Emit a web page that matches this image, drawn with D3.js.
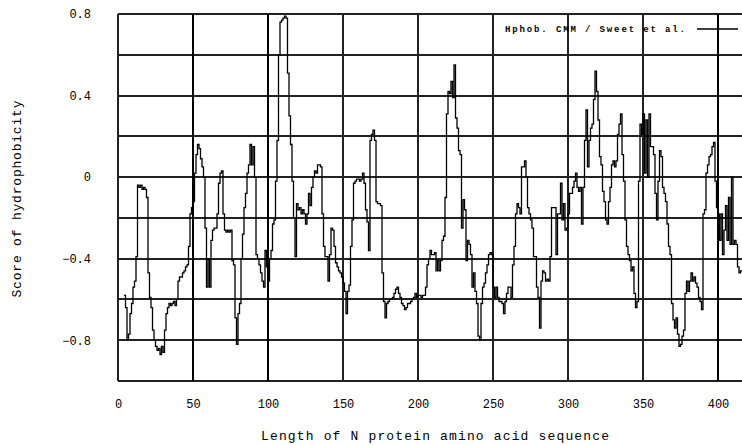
<!DOCTYPE html>
<meta charset='utf-8'>
<title>N protein hydrophobicity</title>
<style>
  body { margin: 0; background: #fff; }
  svg { display: block; }
  text { font-family: 'Liberation Mono', 'DejaVu Sans Mono', monospace; fill: #000; }
  .tick text { font-size: 12px; }
  .grid line { stroke: #222; stroke-width: 1.5px; shape-rendering: crispEdges; }
  .grid line.thick { stroke: #000; stroke-width: 2.5px; }
  .profile { fill: none; stroke: #000; stroke-width: 1.3px; }
</style>
<body>
<script src='https://cdn.jsdelivr.net/npm/d3@7'></script>
<script>

  // x: residue position, y: hydrophobicity score (window average)
  var xTicks = [0, 50, 100, 150, 200, 250, 300, 350, 400]
  var xThick = [50, 100, 400]
  var yGrid = [-1, -0.8, -0.6, -0.4, -0.2, 0, 0.2, 0.4, 0.6, 0.8]
  var yTicks = [0.8, 0.4, 0, -0.4, -0.8]
  var yTickLabels = ['0.8', '0.4', '0', '\u22120.4', '\u22120.8']
  var legendLabel = 'Hphob. CMM / Sweet et al.'

  var startResidue = 4
  var score = [
    -0.58,-0.64,-0.80,-0.77,-0.67,-0.62,-0.54,-0.51,-0.39,-0.04,
    -0.05,-0.04,-0.06,-0.05,-0.06,-0.10,-0.47,-0.59,-0.64,-0.75,
    -0.80,-0.83,-0.85,-0.84,-0.87,-0.83,-0.86,-0.75,-0.67,-0.64,
    -0.62,-0.63,-0.62,-0.61,-0.63,-0.60,-0.51,-0.49,-0.49,-0.47,
    -0.46,-0.44,-0.43,-0.34,-0.18,-0.15,-0.12,0.02,0.11,0.16,
    0.14,0.09,0.05,0.00,-0.25,-0.54,-0.40,-0.54,-0.31,-0.26,
    -0.25,-0.25,-0.18,-0.03,0.02,0.03,-0.18,-0.26,-0.27,-0.26,
    -0.27,-0.26,-0.41,-0.43,-0.69,-0.82,-0.67,-0.62,-0.40,-0.28,
    -0.15,-0.08,0.02,0.06,0.16,0.06,0.15,0.00,-0.38,-0.40,
    -0.43,-0.47,-0.51,-0.54,-0.36,-0.44,-0.51,-0.40,-0.36,-0.23,
    -0.21,-0.02,0.18,0.60,0.76,0.77,0.78,0.79,0.78,0.51,
    0.30,0.16,-0.02,-0.20,-0.39,-0.13,-0.16,-0.15,-0.18,-0.16,
    -0.18,-0.23,-0.18,-0.08,-0.14,-0.05,0.00,0.03,0.02,0.06,
    0.06,0.05,-0.18,-0.34,-0.39,-0.39,-0.51,-0.38,-0.25,-0.26,
    -0.34,-0.42,-0.44,-0.46,-0.47,-0.49,-0.52,-0.56,-0.67,-0.56,
    -0.53,-0.34,-0.21,-0.03,-0.02,-0.01,-0.01,-0.02,-0.01,0.02,
    -0.03,-0.16,-0.22,-0.36,0.18,0.21,0.23,0.18,-0.12,-0.13,
    -0.13,-0.14,-0.47,-0.61,-0.69,-0.62,-0.61,-0.60,-0.60,-0.59,
    -0.57,-0.55,-0.54,-0.57,-0.59,-0.62,-0.63,-0.65,-0.64,-0.62,
    -0.62,-0.61,-0.60,-0.59,-0.57,-0.59,-0.58,-0.58,-0.59,-0.58,
    -0.58,-0.54,-0.43,-0.40,-0.36,-0.38,-0.38,-0.37,-0.46,-0.41,
    -0.46,-0.41,-0.31,-0.29,-0.10,0.31,0.42,0.41,0.47,0.39,
    0.55,0.29,0.24,0.13,0.11,-0.25,-0.11,-0.16,-0.41,-0.31,
    -0.33,-0.38,-0.54,-0.47,-0.56,-0.62,-0.78,-0.80,-0.62,-0.54,
    -0.52,-0.47,-0.43,-0.38,-0.37,-0.38,-0.54,-0.59,-0.54,-0.59,
    -0.61,-0.61,-0.62,-0.67,-0.61,-0.57,-0.54,-0.54,-0.59,-0.43,
    -0.34,-0.18,-0.13,-0.15,-0.18,0.05,0.05,0.08,0.00,-0.15,
    -0.18,-0.21,-0.25,-0.39,-0.39,-0.54,-0.59,-0.74,-0.51,-0.46,
    -0.47,-0.51,-0.50,-0.51,-0.39,-0.15,-0.15,-0.15,-0.38,-0.18,
    -0.18,-0.03,-0.21,-0.13,-0.26,-0.25,-0.18,-0.08,-0.08,-0.05,
    -0.02,0.02,-0.05,-0.07,-0.05,-0.23,-0.05,0.18,0.33,0.05,
    0.18,0.24,0.26,0.38,0.52,0.42,0.28,0.10,0.06,-0.07,
    -0.12,-0.21,-0.23,-0.12,-0.05,0.06,0.08,0.05,0.08,0.21,
    0.26,0.31,0.11,-0.02,-0.21,-0.34,-0.38,-0.41,-0.46,-0.44,
    -0.57,-0.64,-0.61,-0.02,0.26,0.21,0.31,0.02,0.28,0.00,
    0.31,0.15,0.15,0.11,-0.08,-0.21,-0.02,0.13,0.10,-0.05,
    -0.08,-0.12,-0.23,-0.34,-0.38,-0.62,-0.70,-0.74,-0.69,-0.77,
    -0.83,-0.82,-0.78,-0.75,-0.57,-0.51,-0.56,-0.51,-0.47,-0.51,
    -0.49,-0.52,-0.54,-0.59,-0.61,-0.65,-0.18,-0.16,0.02,0.06,
    0.10,0.11,0.15,0.17,-0.02,-0.15,-0.18,-0.31,-0.18,-0.38,
    -0.26,-0.14,-0.31,-0.10,-0.33,0.00,-0.33,-0.31,-0.33,-0.44,
    -0.47,-0.46,-0.46
  ]

  var width = 742,
  height = 445,
  plotLeft = 118, plotRight = 742, plotTop = 14, plotBottom = 381

  var svg = d3.select('body').append('svg')
  .attr('width', width)
  .attr('height', height)

  var x = d3.scaleLinear().domain([0, 416]).range([plotLeft, plotRight])
  var y = d3.scaleLinear().domain([-1, 0.8]).range([plotBottom, plotTop])

  /* ------- GRID -------*/
  var grid = svg.append('g').attr('class', 'grid')

  grid.selectAll('line.h')
  .data(yGrid)
  .enter().append('line')
  .attr('class', 'h')
  .attr('x1', plotLeft).attr('x2', plotRight)
  .attr('y1', function(d) { return Math.round(y(d)) })
  .attr('y2', function(d) { return Math.round(y(d)) })

  grid.selectAll('line.v')
  .data(xTicks)
  .enter().append('line')
  .attr('class', function(d) { return xThick.indexOf(d) >= 0 ? 'v thick' : 'v' })
  .attr('x1', function(d) { return Math.round(x(d)) })
  .attr('x2', function(d) { return Math.round(x(d)) })
  .attr('y1', plotTop).attr('y2', plotBottom)

  /* ------- AXES (labels only) -------*/
  var xAxis = d3.axisBottom(x)
  .tickValues(xTicks)
  .tickSize(0)
  .tickPadding(18)
  .tickFormat(function(d) { return String(d) })

  svg.append('g')
  .attr('transform', 'translate(0,' + plotBottom + ')')
  .call(xAxis)
  .call(function(g) { g.select('.domain').remove() })
  .attr('font-family', null)
  .attr('font-size', null)

  var yAxis = d3.axisLeft(y)
  .tickValues(yTicks)
  .tickSize(0)
  .tickPadding(plotLeft - 91)
  .tickFormat(function(d, i) { return yTickLabels[i] })

  svg.append('g')
  .attr('transform', 'translate(' + plotLeft + ',0)')
  .call(yAxis)
  .call(function(g) { g.select('.domain').remove() })
  .attr('font-family', null)
  .attr('font-size', null)

  /* ------- PROFILE LINE -------*/
  svg.append('clipPath').attr('id', 'plot')
  .append('rect')
  .attr('x', plotLeft).attr('y', plotTop - 2)
  .attr('width', plotRight - plotLeft).attr('height', plotBottom - plotTop + 2)

  var line = d3.line()
  .x(function(d, i) { return x(startResidue + i) })
  .y(function(d) { return y(d) })
  .curve(d3.curveStepAfter)

  svg.append('path')
  .datum(score)
  .attr('class', 'profile')
  .attr('clip-path', 'url(#plot)')
  .attr('d', line)

  /* ------- LEGEND -------*/
  svg.append('text')
  .attr('x', 505).attr('y', 32)
  .attr('font-size', 9)
  .attr('font-weight', 'bold')
  .attr('textLength', 180)
  .attr('lengthAdjust', 'spacing')
  .text(legendLabel)

  svg.append('line')
  .attr('x1', 697).attr('x2', 738)
  .attr('y1', 29).attr('y2', 29)
  .attr('stroke', '#000').attr('stroke-width', 1.3)

  /* ------- TITLES -------*/
  svg.append('text')
  .attr('transform', 'translate(21,199) rotate(-90)')
  .attr('text-anchor', 'middle')
  .attr('font-size', 13)
  .attr('textLength', 197)
  .text('Score of hydrophobicity')

  svg.append('text')
  .attr('x', 435).attr('y', 440)
  .attr('text-anchor', 'middle')
  .attr('font-size', 13)
  .attr('textLength', 348)
  .text('Length of N protein amino acid sequence')

</script>
</body>
